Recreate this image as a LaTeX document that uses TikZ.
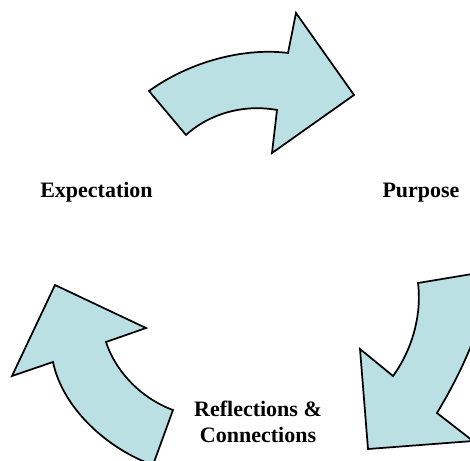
\documentclass[tikz,border=0pt]{standalone}
\usepackage{fontspec}
\setmainfont{Liberation Serif}
\usepackage{xcolor}
\usepackage{tikz}

\definecolor{arrowblue}{RGB}{186,224,228}

\begin{document}
\begin{tikzpicture}[x=0.75pt, y=-0.75pt]
\tikzstyle{cyclearrow} = [draw=black, fill=arrowblue, line width=1.3pt, line join=miter]
\tikzstyle{stage} = [font=\bfseries\fontsize{16.5}{19.5}\selectfont, align=center, inner sep=0pt]

\useasboundingbox (0,0) rectangle (470,460);
\clip (0,0) rectangle (470,460);

% top arrow, pointing right
\path [cyclearrow] (149,91) .. controls (195,58) and (250,48) .. (288,53)
  -- (296,13) -- (354,95) -- (272,153) -- (277,110)
  .. controls (245,104) and (210,113) .. (186,135) -- cycle;

% right arrow, pointing down
\path [cyclearrow] (418,283) .. controls (422,315) and (412,350) .. (393,376)
  -- (360,349) -- (368,449) -- (473,441) -- (437,413)
  .. controls (453,386) and (485,330) .. (490,271) -- cycle;

% left arrow, pointing up
\path [cyclearrow] (55,285) -- (146,328) -- (106,342)
  .. controls (115,370) and (140,398) .. (173,410)
  -- (153,465) .. controls (110,450) and (63,410) .. (53,362)
  -- (12,376) -- cycle;

\node [stage, anchor=base] (expect) at (96.5,197) {Expectation};
\node [stage, anchor=base] (purpose) at (421,197) {Purpose};
% base of a two-line node sits on its last line
\node [stage, anchor=base] (reflect) at (258,442) {Reflections \&\\Connections};

\end{tikzpicture}
\end{document}
